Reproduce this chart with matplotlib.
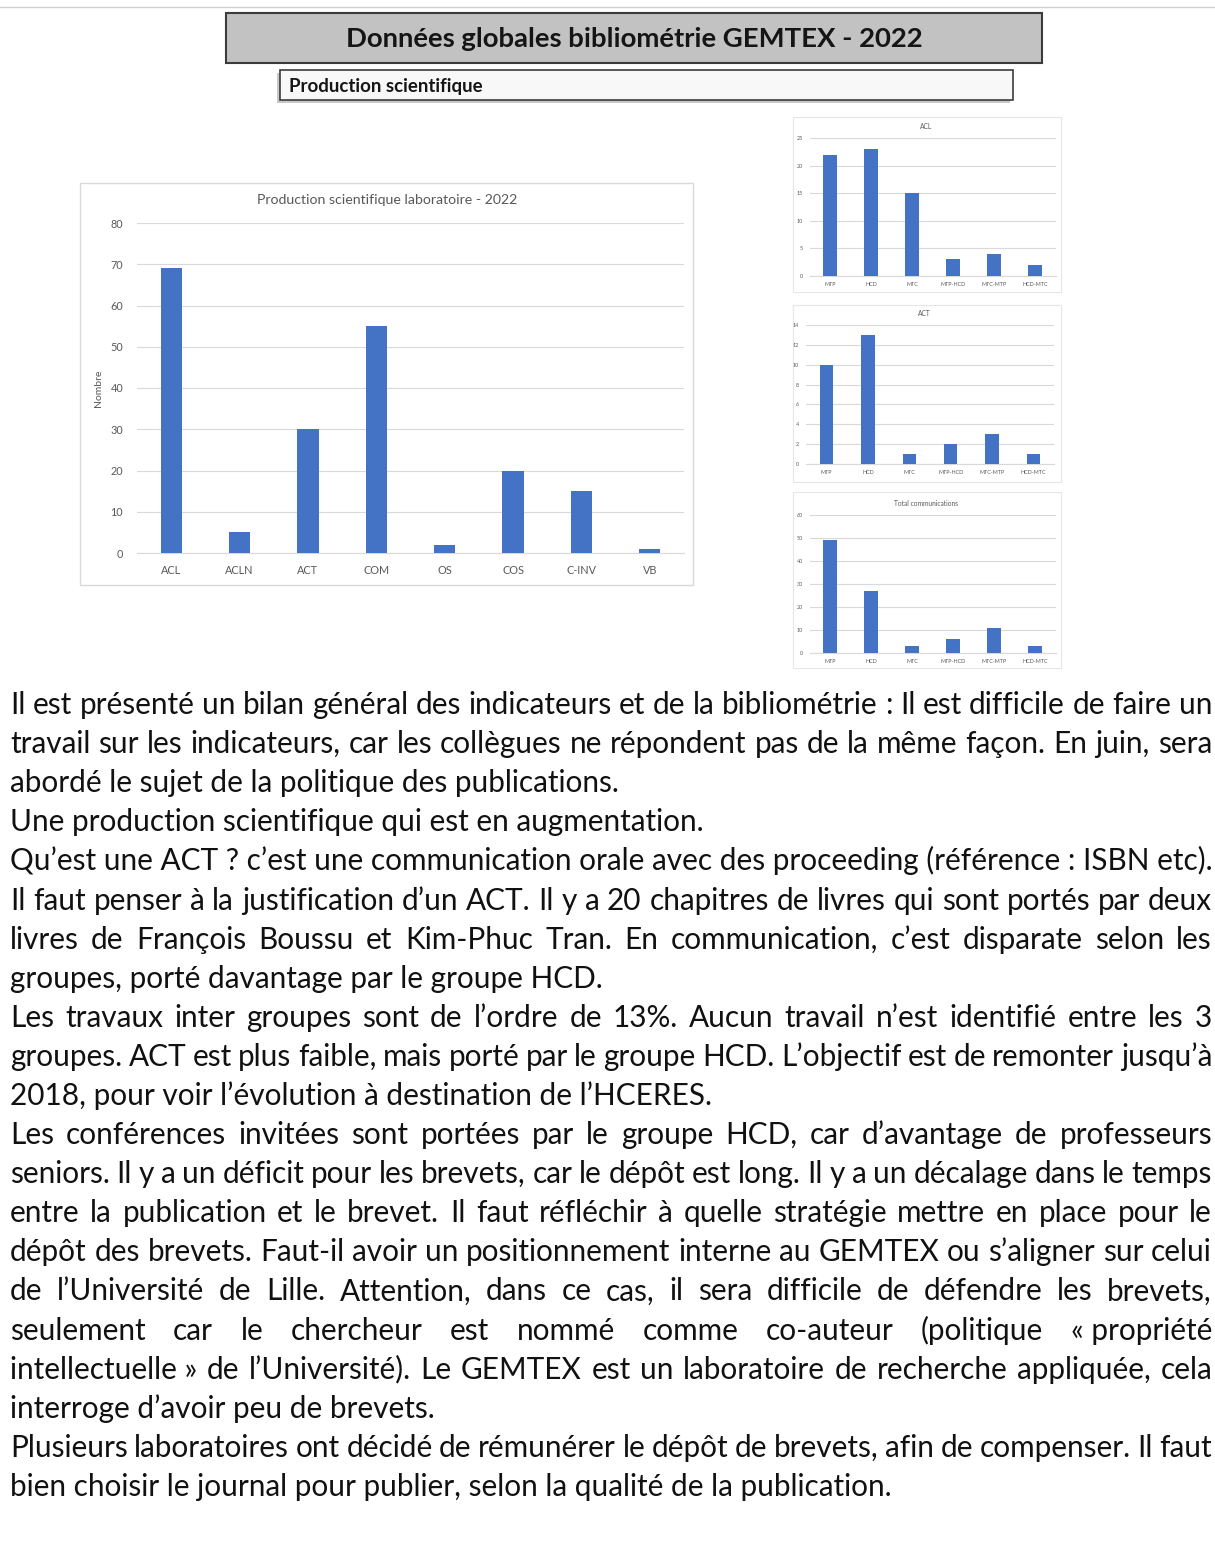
import matplotlib
matplotlib.use("Agg")
import matplotlib.pyplot as plt
from matplotlib.patches import Rectangle

W, H = 1215, 1559
BLUE = "#4472C4"
GRID = "#d9d9d9"
LABEL = "#595959"
FONT = ["Lato", "DejaVu Sans"]

# ── data ─────────────────────────────────────────────────────────────────────
page_title = "Données globales bibliométrie GEMTEX - 2022"
section_title = "Production scientifique"

main_title = "Production scientifique laboratoire - 2022"
main_categories = ["ACL", "ACLN", "ACT", "COM", "OS", "COS", "C-INV", "VB"]
main_values = [69, 5, 30, 55, 2, 20, 15, 1]

group_categories = ["MTP", "HCD", "MTC", "MTP-HCD", "MTC-MTP", "HCD-MTC"]
acl_values = [22, 23, 15, 3, 4, 2]
act_values = [10, 13, 1, 2, 3, 1]
comm_values = [49, 27, 3, 6, 11, 3]

# (line text, justified?)
body_lines = [
    ("Il est présenté un bilan général des indicateurs et de la bibliométrie : Il est difficile de faire un", True),
    ("travail sur les indicateurs, car les collègues ne répondent pas de la même façon. En juin, sera", True),
    ("abordé le sujet de la politique des publications.", False),
    ("Une production scientifique qui est en augmentation.", False),
    ("Qu’est une ACT ? c’est une communication orale avec des proceeding (référence : ISBN etc).", False),
    ("Il faut penser à la justification d’un ACT. Il y a 20 chapitres de livres qui sont portés par deux", True),
    ("livres de François Boussu et Kim-Phuc Tran. En communication, c’est disparate selon les", True),
    ("groupes, porté davantage par le groupe HCD.", False),
    ("Les travaux inter groupes sont de l’ordre de 13%. Aucun travail n’est identifié entre les 3", True),
    ("groupes. ACT est plus faible, mais porté par le groupe HCD. L’objectif est de remonter jusqu’à", True),
    ("2018, pour voir l’évolution à destination de l’HCERES.", False),
    ("Les conférences invitées sont portées par le groupe HCD, car d’avantage de professeurs", True),
    ("seniors. Il y a un déficit pour les brevets, car le dépôt est long. Il y a un décalage dans le temps", True),
    ("entre la publication et le brevet. Il faut réfléchir à quelle stratégie mettre en place pour le", True),
    ("dépôt des brevets. Faut-il avoir un positionnement interne au GEMTEX ou s’aligner sur celui", True),
    ("de l’Université de Lille. Attention, dans ce cas, il sera difficile de défendre les brevets,", True),
    ("seulement car le chercheur est nommé comme co-auteur (politique «\u00a0propriété", True),
    ("intellectuelle\u00a0» de l’Université). Le GEMTEX est un laboratoire de recherche appliquée, cela", True),
    ("interroge d’avoir peu de brevets.", False),
    ("Plusieurs laboratoires ont décidé de rémunérer le dépôt de brevets, afin de compenser. Il faut", True),
    ("bien choisir le journal pour publier, selon la qualité de la publication.", False),
]


def px_rect(x0, y0, x1, y1):
    """pixel box (top-left origin) -> figure fraction rect"""
    return [x0 / W, 1 - y1 / H, (x1 - x0) / W, (y1 - y0) / H]


fig = plt.figure(figsize=(W / 100, H / 100), dpi=100)
fig.patch.set_facecolor("white")

# page layer in pixel coordinates
page = fig.add_axes([0, 0, 1, 1])
page.set_xlim(0, W)
page.set_ylim(H, 0)
page.axis("off")
renderer = fig.canvas.get_renderer()


def text_width(s, size, weight="normal"):
    t = page.text(0, 0, s, fontsize=size, family=FONT, weight=weight)
    w = t.get_window_extent(renderer).width
    t.remove()
    return w


def fit_size(s, target, weight="normal", base=20):
    return base * target / text_width(s, base, weight)


# ── header ───────────────────────────────────────────────────────────────────
page.plot([0, W], [7, 7], color="#cfcfcf", lw=1)
page.add_patch(Rectangle((226, 13), 816, 50, fc="#c2c2c2", ec="#3c3c3c", lw=1.5))
page.text(634, 39, page_title, ha="center", va="center", family=FONT,
          weight="bold", color="#151515", fontsize=fit_size(page_title, 577, "bold"))
page.add_patch(Rectangle((277, 73), 733, 30, fc="#c8c8c8", ec="none"))
page.add_patch(Rectangle((280, 70), 733, 30, fc="#f8f8f8", ec="#3c3c3c", lw=1.2))
page.text(289, 86, section_title, ha="left", va="center", family=FONT,
          weight="bold", color="#151515", fontsize=fit_size(section_title, 193, "bold"))


# ── charts ───────────────────────────────────────────────────────────────────
def bar_panel(box, cats, vals, ymax, step, bar_w, lab_size, ypad, xpad):
    ax = fig.add_axes(px_rect(*box))
    xs = list(range(len(cats)))
    ax.bar(xs, vals, width=bar_w, color=BLUE, zorder=3)
    ax.set_xlim(-0.5, len(cats) - 0.5)
    ax.set_ylim(0, ymax)
    ax.set_yticks(list(range(0, ymax + 1, step)))
    ax.set_xticks(xs)
    ax.set_xticklabels(cats)
    ax.yaxis.grid(True, color=GRID, lw=0.8, zorder=0)
    ax.set_axisbelow(True)
    for s in ["top", "right", "left"]:
        ax.spines[s].set_visible(False)
    ax.spines["bottom"].set_color(GRID)
    ax.spines["bottom"].set_zorder(1)
    ax.tick_params(axis="both", length=0, labelsize=lab_size, colors=LABEL)
    ax.tick_params(axis="y", pad=ypad)
    ax.tick_params(axis="x", pad=xpad)
    for lab in ax.get_xticklabels() + ax.get_yticklabels():
        lab.set_family(FONT)
    return ax


# main chart
page.add_patch(Rectangle((80, 183), 613, 402, fc="white", ec="#d9d9d9", lw=1))
page.text(387, 200, main_title, ha="center", va="center", family=FONT,
          color=LABEL, fontsize=10.2)
page.text(99, 388, "Nombre", ha="center", va="center", rotation=90,
          family=FONT, color=LABEL, fontsize=7.5)
bar_panel((137, 223, 684, 553), main_categories, main_values, 80, 10,
          0.31, 7.8, 10, 9)

# small group charts
small = [
    ((793, 117, 1061, 292), (809.5, 138, 1055.5, 276), "ACL", acl_values, 25, 5, 126, 926),
    ((793, 305, 1061, 482), (806, 325, 1054, 464), "ACT", act_values, 14, 2, 313, 924),
    ((793, 492, 1061, 668), (809.5, 515, 1055.5, 653), "Total communications", comm_values, 60, 10, 503, 926),
]
for frame, box, title, vals, ymax, step, ty, tx in small:
    x0, y0, x1, y1 = frame
    page.add_patch(Rectangle((x0, y0), x1 - x0, y1 - y0, fc="white", ec="#e6e6e6", lw=0.8))
    page.text(tx, ty, title, ha="center", va="center",
              family=FONT, color=LABEL, fontsize=4.8)
    bar_panel(box, group_categories, vals, ymax, step, 0.32, 3.9, 5, 4)

# ── body text ────────────────────────────────────────────────────────────────
LEFT, RIGHT = 10, 1212
body_size = fit_size(body_lines[4][0], RIGHT - LEFT)
y = 714
for text, justified in body_lines:
    if justified:
        words = text.split(" ")
        widths = [text_width(w, body_size) for w in words]
        gap = (RIGHT - LEFT - sum(widths)) / (len(words) - 1)
        x = LEFT
        for w, wd in zip(words, widths):
            page.text(x, y, w, ha="left", va="baseline", family=FONT,
                      fontsize=body_size, color="#111111")
            x += wd + gap
    else:
        page.text(LEFT, y, text, ha="left", va="baseline", family=FONT,
                  fontsize=body_size, color="#111111")
    y += 39.1

fig.savefig("out.png", dpi=100, facecolor="white")
